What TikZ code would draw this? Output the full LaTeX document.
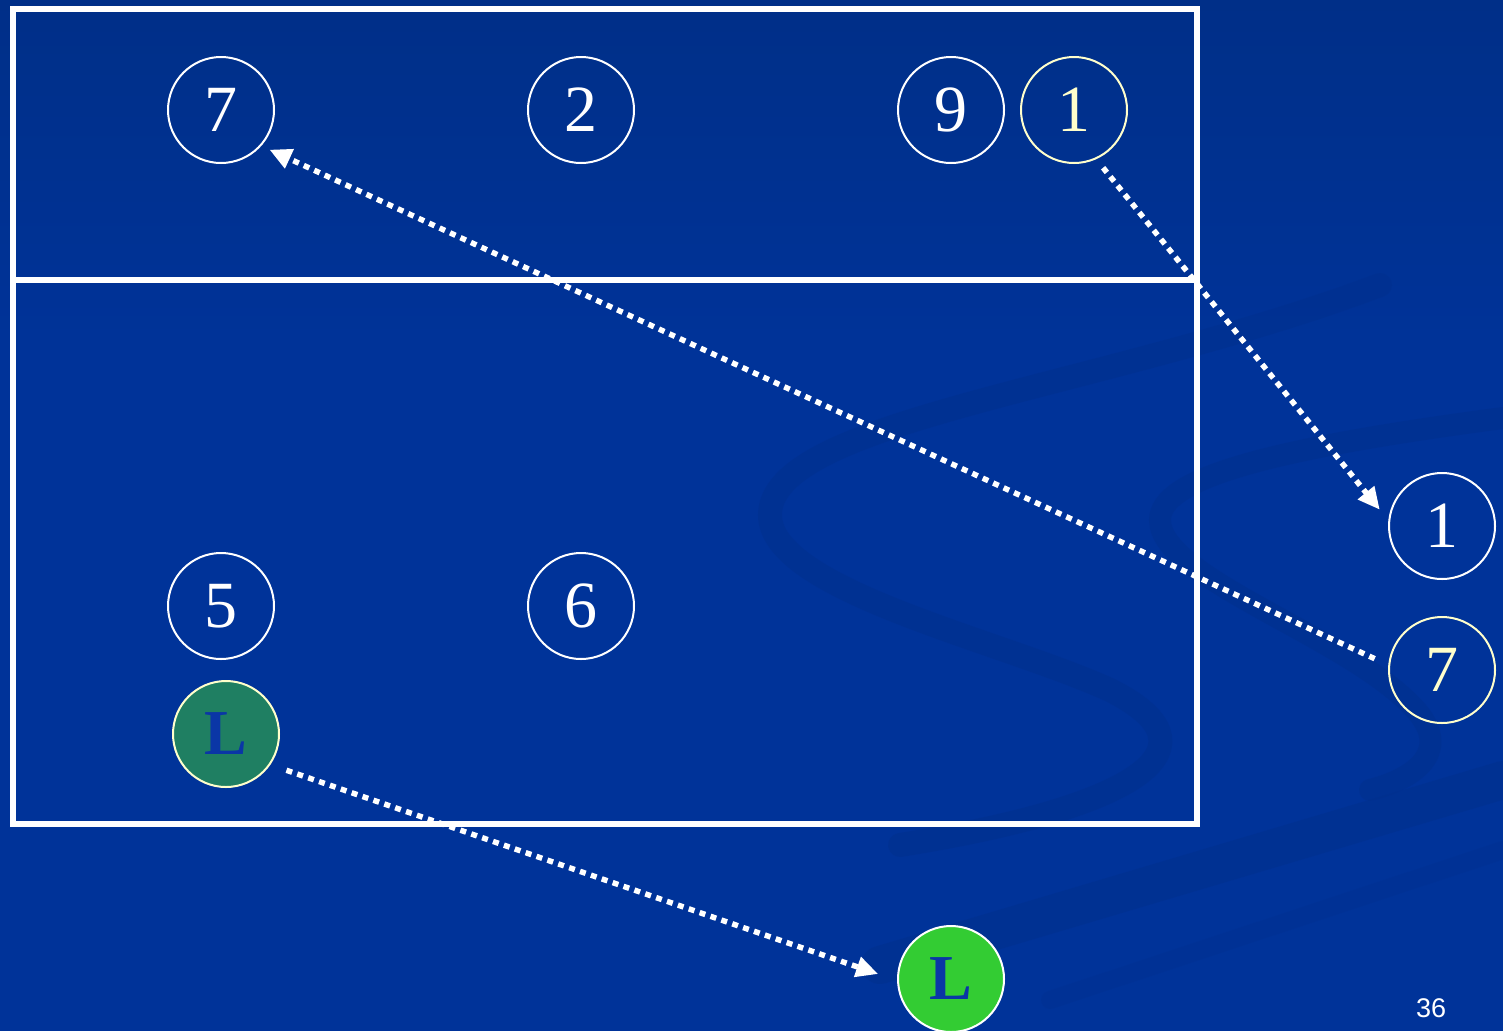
\documentclass[tikz,border=0pt]{standalone}
\usepackage{fontspec}
\setmainfont{Liberation Serif}
\newfontfamily\pagefont{Liberation Sans}
\usetikzlibrary{arrows.meta}
\definecolor{bg}{HTML}{003399}
\definecolor{bgtop}{HTML}{002F88}
\definecolor{swirl}{HTML}{00308E}
\definecolor{paleyellow}{HTML}{FFFFCC}
\definecolor{teal}{HTML}{1F7F62}
\definecolor{lgreen}{HTML}{33CC33}
\definecolor{ltext}{HTML}{0A36A6}
\begin{document}
\begin{tikzpicture}[x=1pt,y=-1pt,
  player/.style={circle, draw=white, line width=2pt, minimum size=106pt, inner sep=0pt, outer sep=0pt, text=white, font=\fontsize{66}{66}\selectfont},
  yellowplayer/.style={player, draw=paleyellow, text=paleyellow},
  libero/.style={player, text=ltext, font=\fontsize{64}{64}\selectfont\bfseries},
  move/.style={draw=white, line width=5.5pt, dash pattern=on 6pt off 5.5pt, -{Triangle[length=22pt,width=20pt]}},
  court/.style={draw=white, line width=6.5pt},
  band/.style={draw=swirl, line cap=round, opacity=0.55}
]
% background
\fill[bg] (0,0) rectangle (1503,1031);
\shade[top color=bgtop, bottom color=bg] (0,0) rectangle (1503,360);
\useasboundingbox (0,0) rectangle (1503,1031);
% swirl decoration
\draw[band, line width=24pt] (1380,285) .. controls (1100,390) and (770,420) .. (770,515) .. controls (770,590) and (1000,640) .. (1110,690) .. controls (1220,745) and (1150,805) .. (900,845);
\draw[band, line width=22pt] (1503,418) .. controls (1260,450) and (1160,480) .. (1160,520) .. controls (1160,580) and (1360,640) .. (1420,715) .. controls (1450,755) and (1410,780) .. (1370,790);
\draw[band, line width=38pt] (1503,780) -- (880,965);
\draw[band, line width=18pt, opacity=0.35] (1503,850) -- (1050,1000);
% court
\draw[court] (13,9) rectangle (1197,824);
\draw[court] (13,280) -- (1197,280);
% players
\node[player] (t7) at (221,110) {7};
\node[player] (t2) at (581,110) {2};
\node[player] (t9) at (951,110) {9};
\node[yellowplayer] (t1) at (1074,110) {1};
\node[player] (b5) at (221,606) {5};
\node[player] (b6) at (581,606) {6};
\node[libero, fill=teal, draw=paleyellow] (lt) at (226,734) {L};
\node[player] (r1) at (1442,526) {1};
\node[yellowplayer] (r7) at (1442,670) {7};
\node[libero, fill=lgreen, draw=white] (lg) at (951,979) {L};
\node[text=white, font=\pagefont\fontsize{27}{27}\selectfont] (pg) at (1431,1008) {36};
% moves
\draw[move, shorten <=16pt, shorten >=10pt] (r7.175) -- (t7.-42);
\draw[move, shorten <=12pt, shorten >=15pt] (t1.-66) -- (r1.175);
\draw[move, shorten <=18pt, shorten >=21pt] (lt.-35) -- (lg.182);
\end{tikzpicture}
\end{document}
